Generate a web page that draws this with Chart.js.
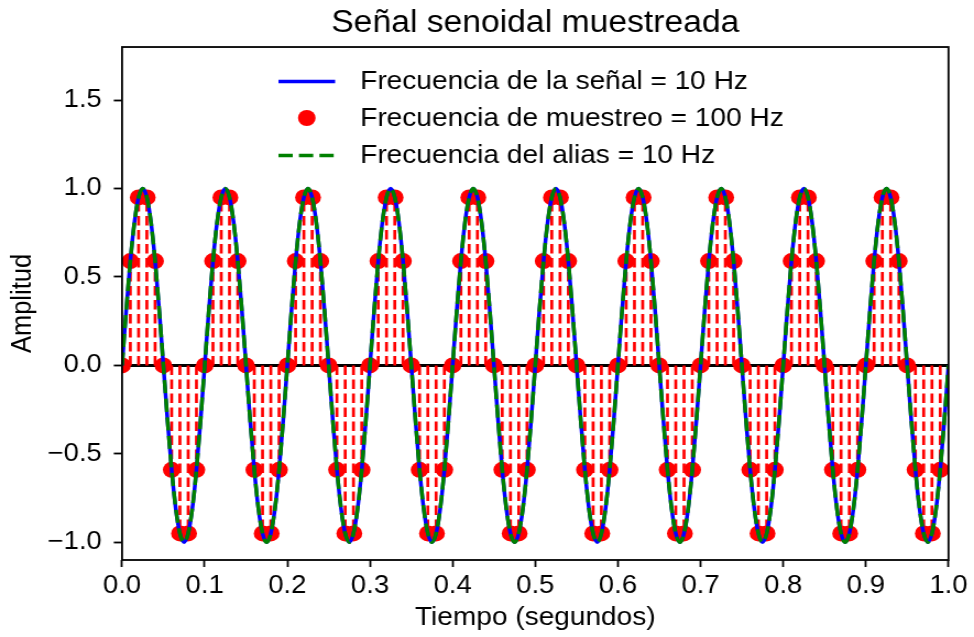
<!DOCTYPE html>
<html>
<head>
<meta charset="utf-8">
<title>Señal senoidal muestreada</title>
<script src="https://cdn.jsdelivr.net/npm/chart.js@4"></script>
<style>
  html, body { margin: 0; padding: 0; background: #fff; }
</style>
</head>
<body>
<!-- el lienzo se dibuja algo más estrecho y se estira en horizontal -->
<canvas id="grafica" width="885" height="637" style="width:974px;height:637px;display:block"></canvas>
<script>
// un periodo de la señal de 10 Hz, un valor cada 5 ms
const cicloSenal = [0, 0.31, 0.59, 0.81, 0.95, 1, 0.95, 0.81, 0.59, 0.31,
                    0, -0.31, -0.59, -0.81, -0.95, -1, -0.95, -0.81, -0.59, -0.31];
// un periodo de las muestras tomadas a 100 Hz (cada 10 ms)
const cicloMuestras = [0, 0.59, 0.95, 0.95, 0.59, 0, -0.59, -0.95, -0.95, -0.59];
// el alias a 10 Hz coincide con la señal
const cicloAlias = cicloSenal;

const periodos = 10;
const pasoSenal = 0.005;
const pasoMuestreo = 0.01;

const ticksX = [0, 0.1, 0.2, 0.3, 0.4, 0.5, 0.6, 0.7, 0.8, 0.9, 1.0];
const ticksY = [-1.0, -0.5, 0.0, 0.5, 1.0, 1.5];

const etiquetas = {
    senal: 'Frecuencia de la señal = 10 Hz',
    muestras: 'Frecuencia de muestreo = 100 Hz',
    alias: 'Frecuencia del alias = 10 Hz'
};

function repetir(ciclo, paso) {
    const puntos = [];
    for (let p = 0; p < periodos; p++) {
        ciclo.forEach((v, i) => puntos.push({ x: (p * ciclo.length + i) * paso, y: v }));
    }
    return puntos;
}

const senal = repetir(cicloSenal, pasoSenal);
senal.push({ x: 1, y: 0 });
const alias = repetir(cicloAlias, pasoSenal);
alias.push({ x: 1, y: 0 });
const muestras = repetir(cicloMuestras, pasoMuestreo);

// tallos: de 0 al valor de cada muestra, cortados con null
const tallos = [];
muestras.forEach(m => {
    tallos.push({ x: m.x, y: 0 }, { x: m.x, y: m.y }, { x: m.x, y: null });
});

const fmt = v => v.toFixed(1).replace('-', '\u2212');

// marco completo de los ejes
const marco = {
    id: 'marco',
    afterDatasetsDraw(chart) {
        const { ctx, chartArea: a } = chart;
        ctx.save();
        ctx.strokeStyle = '#000';
        ctx.lineWidth = 1.8;
        ctx.strokeRect(a.left, a.top, a.right - a.left, a.bottom - a.top);
        ctx.restore();
    }
};

// leyenda en columna dentro del área de la gráfica
const leyenda = {
    id: 'leyenda',
    afterDraw(chart) {
        const ctx = chart.ctx;
        const x0 = 253, x1 = 304.5, xt = 327.3;
        const filas = [81.5, 118, 155.5];
        const orden = [1, 2, 0]; // señal, muestras, alias
        ctx.save();
        ctx.font = "25.5px 'Liberation Sans', Arial, sans-serif";
        ctx.fillStyle = '#000';
        ctx.textBaseline = 'middle';
        orden.forEach((idx, k) => {
            const ds = chart.data.datasets[idx];
            const y = filas[k];
            if (ds.showLine === false) {
                ctx.beginPath();
                ctx.fillStyle = ds.backgroundColor;
                ctx.arc((x0 + x1) / 2, y, ds.pointRadius, 0, Math.PI * 2);
                ctx.fill();
            } else {
                ctx.beginPath();
                ctx.strokeStyle = ds.borderColor;
                ctx.lineWidth = ds.borderWidth;
                ctx.setLineDash(ds.borderDash || []);
                ctx.moveTo(x0, y);
                ctx.lineTo(x1, y);
                ctx.stroke();
                ctx.setLineDash([]);
            }
            ctx.fillStyle = '#000';
            ctx.fillText(ds.label, xt, y + 0.5);
        });
        ctx.restore();
    }
};

Chart.defaults.font.family = "'Liberation Sans', Arial, sans-serif";
Chart.defaults.color = '#000';

new Chart(document.getElementById('grafica'), {
    type: 'line',
    data: {
        datasets: [
            {
                label: etiquetas.alias,
                data: alias,
                borderColor: '#008000',
                borderWidth: 3.5,
                borderDash: [13, 5.6],
                pointRadius: 0,
                cubicInterpolationMode: 'monotone'
            },
            {
                label: etiquetas.senal,
                data: senal,
                borderColor: '#0000ff',
                borderWidth: 3.5,
                pointRadius: 0,
                cubicInterpolationMode: 'monotone'
            },
            {
                label: etiquetas.muestras,
                data: muestras,
                showLine: false,
                pointRadius: 8,
                pointStyle: 'circle',
                backgroundColor: '#ff0000',
                pointBackgroundColor: '#ff0000',
                pointBorderWidth: 0
            },
            {
                label: 'tallos',
                data: tallos,
                borderColor: '#ff0000',
                borderWidth: 2.7,
                borderDash: [9.5, 4.5],
                pointRadius: 0,
                spanGaps: false
            },
            {
                label: 'base',
                data: [{ x: ticksX[0], y: 0 }, { x: ticksX[ticksX.length - 1], y: 0 }],
                borderColor: '#000',
                borderWidth: 3,
                pointRadius: 0
            }
        ]
    },
    options: {
        responsive: false,
        animation: false,
        devicePixelRatio: 1,
        events: [],
        layout: { padding: { left: 0, right: 23.2, top: 0, bottom: 0 } },
        plugins: {
            legend: { display: false },
            tooltip: { enabled: false },
            title: {
                display: true,
                fullSize: false,
                text: 'Señal senoidal muestreada',
                color: '#000',
                font: { size: 30.6, weight: 'normal' },
                padding: { top: 5.45, bottom: 4.85 }
            }
        },
        scales: {
            x: {
                type: 'linear',
                min: 0,
                max: 1,
                afterBuildTicks: axis => { axis.ticks = ticksX.map(v => ({ value: v })); },
                afterFit: axis => { axis.height = 77; },
                ticks: { callback: fmt, font: { size: 25 }, padding: 4, maxRotation: 0 },
                grid: { drawOnChartArea: false, drawTicks: true, tickLength: 7, tickWidth: 1.8, tickColor: '#000' },
                border: { display: false },
                title: {
                    display: true,
                    text: 'Tiempo (segundos)',
                    font: { size: 25.5 },
                    padding: { top: 0, bottom: 3.7 }
                }
            },
            y: {
                min: -1.1,
                max: 1.8,
                afterBuildTicks: axis => { axis.ticks = ticksY.map(v => ({ value: v })); },
                afterFit: axis => { axis.width = 110.9; },
                ticks: { callback: fmt, font: { size: 25 }, padding: 10.9 },
                grid: { drawOnChartArea: false, drawTicks: true, tickLength: 7.5, tickWidth: 1.8, tickColor: '#000' },
                border: { display: false },
                title: {
                    display: true,
                    text: 'Amplitud',
                    font: { size: 25.5 },
                    padding: { top: 5.2, bottom: 0 }
                }
            }
        }
    },
    plugins: [marco, leyenda]
});
</script>
</body>
</html>
